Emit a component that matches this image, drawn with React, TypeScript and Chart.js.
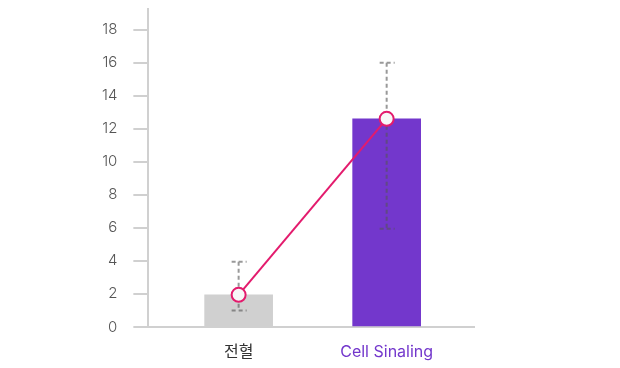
import React, { useEffect, useRef } from "react";
import { Chart, registerables } from "chart.js";

Chart.register(...registerables);

const categories = ["전혈", "Cell Sinaling"];
const barValues = [1.95, 12.6];
const lineValues = [1.95, 12.6];
const errLow = [1, 5.95];
const errHigh = [3.95, 16];
const yTicks = [0, 2, 4, 6, 8, 10, 12, 14, 16, 18];

const FONT = "Inter, 'Noto Sans CJK KR', sans-serif";

const errorBarPlugin = {
  id: "errorBars",
  afterDatasetDraw(chart: any, args: any) {
    if (args.index !== 0) return;
    const meta = chart.getDatasetMeta(0);
    const y = chart.scales.y;
    const ctx = chart.ctx;
    ctx.save();
    ctx.strokeStyle = "rgba(85,85,85,0.6)";
    ctx.lineWidth = 2;
    ctx.setLineDash([4, 3]);
    meta.data.forEach((el: any, i: number) => {
      const x = el.x;
      const yt = y.getPixelForValue(errHigh[i]);
      const yb = y.getPixelForValue(errLow[i]);
      ctx.beginPath();
      ctx.moveTo(x, yt);
      ctx.lineTo(x, yb);
      ctx.moveTo(x - 7, yt);
      ctx.lineTo(x + 8, yt);
      ctx.moveTo(x - 7, yb);
      ctx.lineTo(x + 8, yb);
      ctx.stroke();
    });
    ctx.restore();
  },
};

export default function App() {
  const ref = useRef<HTMLCanvasElement>(null);
  useEffect(() => {
    document.body.style.margin = "0";
    const chart = new Chart(ref.current!, {
      type: "bar",
      data: {
        labels: categories,
        datasets: [
          {
            type: "bar",
            data: barValues,
            backgroundColor: ["#d0d0d0", "#7337cc"],
            barThickness: 68,
            order: 2,
          },
          {
            type: "line",
            data: lineValues,
            borderColor: "#e31b6d",
            borderWidth: 2,
            pointRadius: 7,
            pointBorderWidth: 2,
            pointBackgroundColor: "#f7f7f7",
            pointBorderColor: "#e31b6d",
            order: 1,
          } as any,
        ],
      },
      options: {
        animation: false,
        responsive: false,
        layout: { padding: { left: 86, right: 146, top: 7, bottom: 0 } },
        plugins: { legend: { display: false }, tooltip: { enabled: false } },
        scales: {
          x: {
            afterBuildTicks: (scale: any) => {
              scale._startValue = -0.61;
              scale._valueRange = 2.2;
            },
            afterFit: (scale: any) => {
              scale.height = 41;
              scale.paddingLeft = 0;
              scale.paddingRight = 0;
            },
            border: { color: "#d0d0d0", width: 2 },
            grid: { display: false, drawTicks: false },
            ticks: {
              padding: 16,
              font: { family: FONT, size: 16 },
              color: (c: any) => (c.index === 1 ? "#7337cc" : "#333333"),
            },
          },
          y: {
            min: 0,
            max: 19.25,
            afterBuildTicks: (scale: any) => {
              scale.ticks = yTicks.map((v) => ({ value: v }));
            },
            afterFit: (scale: any) => {
              scale.paddingTop = 0;
              scale.paddingBottom = 0;
            },
            border: { color: "#d0d0d0", width: 2 },
            grid: { drawOnChartArea: false, tickLength: 15, color: "#d0d0d0", lineWidth: 2 },
            ticks: {
              padding: 16,
              font: { family: FONT, size: 15, weight: "300" },
              color: "#555555",
            },
          },
        },
      },
      plugins: [errorBarPlugin],
    });
    return () => chart.destroy();
  }, []);
  return <canvas ref={ref} width={620} height={368} style={{ display: "block" }} />;
}
